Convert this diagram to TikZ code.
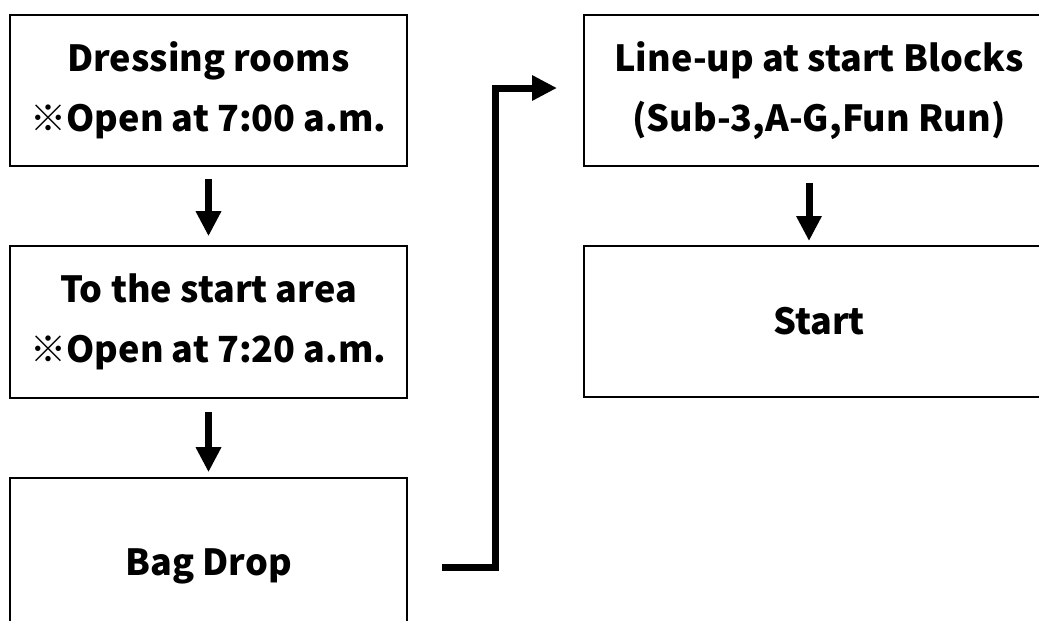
\documentclass[tikz,border=0pt]{standalone}
\usepackage{fontspec}
\setmainfont{Noto Sans CJK JP}
\usetikzlibrary{arrows.meta}
\begin{document}
\begin{tikzpicture}[x=1pt,y=-1pt,
  stepbox/.style={draw=black, line width=1.6pt, inner sep=0pt, align=center,
    font=\fontsize{36}{60}\selectfont\bfseries},
  flow/.style={line width=7pt, -{Triangle[length=25pt,width=24pt]}},
  elbow/.style={line width=7pt, -{Triangle[length=25pt,width=24pt]}}]
\useasboundingbox (0,0) rectangle (1039,621);
\begin{scope}
\clip (0,0) rectangle (1039,621);
% left column
\node[stepbox, minimum width=397pt, minimum height=151pt] (dress) at (208.5,90.5)
  {Dressing rooms\\※Open at 7:00 a.m.};
\node[stepbox, minimum width=397pt, minimum height=152pt] (area) at (208.5,322)
  {To the start area\\※Open at 7:20 a.m.};
\node[stepbox, minimum width=397pt, minimum height=176pt] (bag) at (208.5,566)
  {Bag Drop};
% right column
\node[stepbox, minimum width=470pt, minimum height=151pt] (lineup) at (819,90.5)
  {Line-up at start Blocks\\(Sub-3,A-G,Fun Run)};
\node[stepbox, minimum width=470pt, minimum height=151pt] (start) at (819,321.5)
  {Start};
\end{scope}
% vertical arrows
\draw[flow, shorten <=12pt, shorten >=9pt] (dress.south) -- (area.north);
\draw[flow, shorten <=13pt, shorten >=5pt] (area.south) -- (bag.north);
\coordinate (ltop) at (809,165.5);
\coordinate (lbot) at (809,246);
\draw[flow, shorten <=17pt, shorten >=5pt] (ltop) -- (lbot);
% elbow connector from Bag Drop to the line-up
\coordinate (elbowstart) at (442,567);
\coordinate (bend) at (495,567);
\coordinate (tip) at (557,88);
\draw[elbow] (elbowstart) -- (bend) |- (tip);
\end{tikzpicture}
\end{document}
